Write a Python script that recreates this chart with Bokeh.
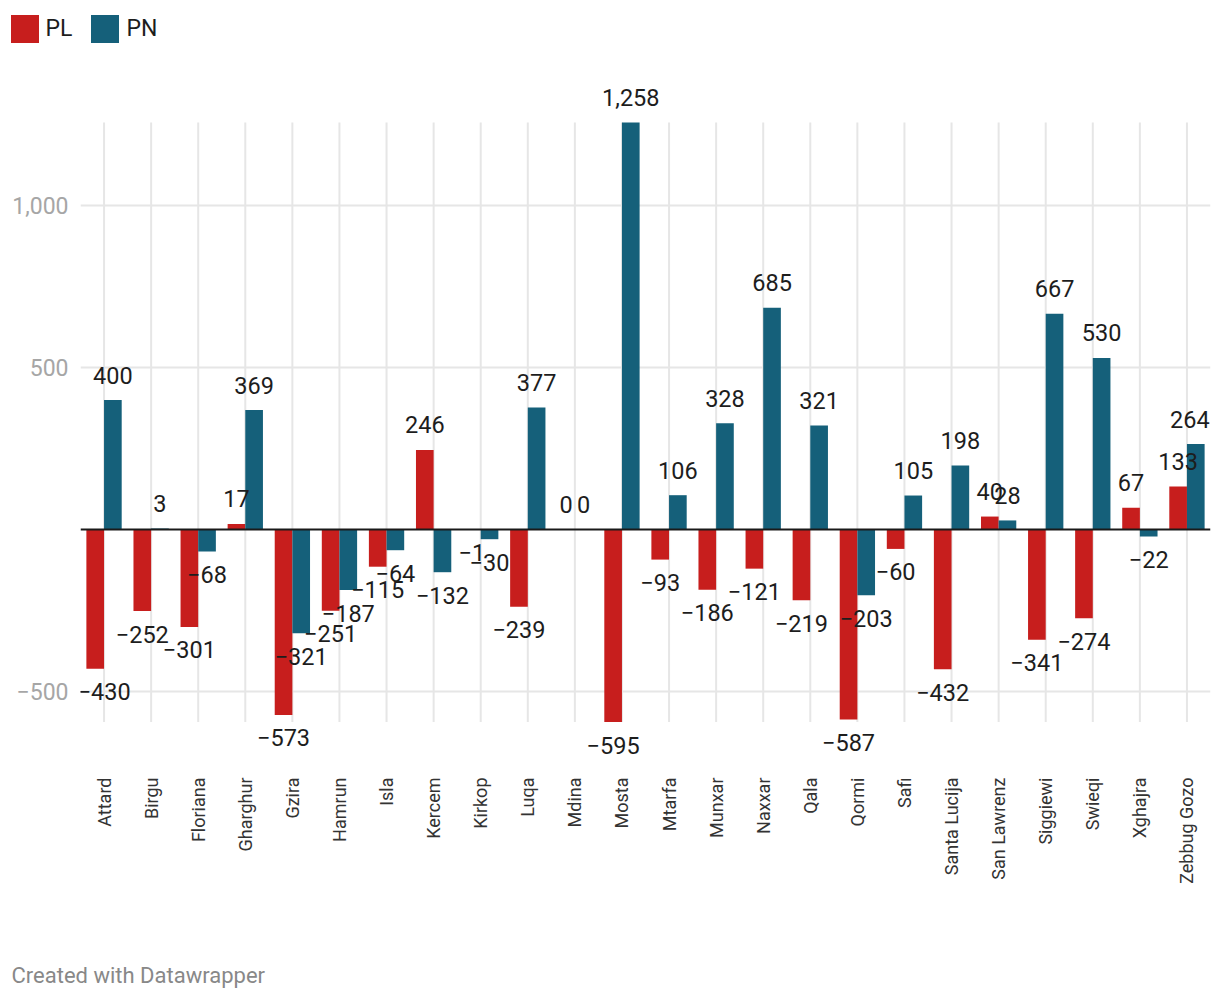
import math
from bokeh.plotting import figure
from bokeh.layouts import column
from bokeh.models import (ColumnDataSource, FactorRange, Range1d, FixedTicker,
                          Legend, LegendItem, Span, Label)
from bokeh.transform import dodge
from bokeh.core.properties import value
from bokeh.embed import file_html
from bokeh.resources import INLINE

categories = ["Attard", "Birgu", "Floriana", "Gharghur", "Gzira", "Hamrun", "Isla",
              "Kercem", "Kirkop", "Luqa", "Mdina", "Mosta", "Mtarfa", "Munxar",
              "Naxxar", "Qala", "Qormi", "Safi", "Santa Lucija", "San Lawrenz",
              "Siggiewi", "Swieqi", "Xghajra", "Zebbug Gozo"]
pl = [-430, -252, -301, 17, -573, -251, -115, 246, -1, -239, 0, -595, -93, -186,
      -121, -219, -587, -60, -432, 40, -341, -274, 67, 133]
pn = [400, 3, -68, 369, -321, -187, -64, -132, -30, 377, 0, 1258, 106, 328,
      685, 321, -203, 105, 198, 28, 667, 530, -22, 264]
series_names = ["PL", "PN"]
y_ticks = [-500, 500, 1000]
y_tick_labels = {-500: "\u2212500", 500: "500", 1000: "1,000"}

RED = "#c71e1d"
BLUE = "#15607a"
FONT = "Roboto"
GRID = "#e6e6e6"
W = 1212


def fmt(v):
    s = f"{abs(v):,}"
    return ("\u2212" + s) if v < 0 else s


def offs(vals):
    return [23 if v < 0 else -25 for v in vals]


def bare(fig):
    fig.outline_line_color = None
    fig.axis.visible = False
    fig.grid.grid_line_color = None
    fig.background_fill_color = "white"
    fig.border_fill_color = "white"
    can_free = "frame_align" in fig.properties()
    if can_free:
        fig.frame_align = False
    return can_free


n = len(categories)
all_vals = pl + pn
# keep the edge labels inside the chart area
pl_dx = [9] + [0] * (n - 1)
pn_dx = [0] * (n - 1) + [-6]
src = ColumnDataSource(dict(
    cat=categories, pl=pl, pn=pn,
    pl_lbl=[fmt(v) for v in pl], pn_lbl=[fmt(v) for v in pn],
    pl_off=offs(pl), pn_off=offs(pn),
    pl_dx=pl_dx, pn_dx=pn_dx,
    g0=[min(all_vals)] * n, g1=[max(all_vals)] * n,
))

# ---------------- legend strip ----------------
lg = figure(width=W, height=50, min_border=0, x_range=FactorRange(*categories),
            y_range=Range1d(5000, 5001), output_backend="svg", toolbar_location=None)
free = bare(lg)
# same series drawn far outside the strip's view; only their legend swatches show
lr1 = lg.vbar(x="cat", top="pl", width=0.375, source=src, fill_color=RED, line_color=None)
lr2 = lg.vbar(x="cat", top="pn", width=0.375, source=src, fill_color=BLUE, line_color=None)
legend = Legend(items=[LegendItem(label=series_names[0], renderers=[lr1]),
                       LegendItem(label=series_names[1], renderers=[lr2])],
                orientation="horizontal", location=(6.5 if free else -73.5, 4.5),
                glyph_width=35, glyph_height=35, label_standoff=4, spacing=15,
                label_text_font=FONT, label_text_font_size="23px",
                label_text_color="#1d1d1d", border_line_color=None,
                background_fill_alpha=0, padding=0, margin=0)
lg.add_layout(legend)

# ---------------- main chart ----------------
p = figure(x_range=FactorRange(*categories), y_range=Range1d(-760.2, 1449.3),
           frame_width=1130, frame_height=715, output_backend="svg",
           toolbar_location=None,
           min_border_left=80, min_border_right=2, min_border_top=10,
           min_border_bottom=165)
p.outline_line_color = None
p.background_fill_color = "white"
p.border_fill_color = "white"

p.xgrid.grid_line_color = None
p.ygrid.ticker = FixedTicker(ticks=y_ticks)
p.ygrid.grid_line_color = GRID
p.ygrid.grid_line_width = 2

# vertical grid lines at each category
p.segment(x0="cat", y0="g0", x1="cat", y1="g1", source=src,
          line_color=GRID, line_width=2)

p.vbar(x=dodge("cat", -0.1875, range=p.x_range), top="pl", width=0.375,
       source=src, fill_color=RED, line_color=None)
p.vbar(x=dodge("cat", 0.1875, range=p.x_range), top="pn", width=0.375,
       source=src, fill_color=BLUE, line_color=None)

p.add_layout(Span(location=0, dimension="width", line_color="#1a1a1a", line_width=2))

for col, lbl, off, dxc, dx in (("pl", "pl_lbl", "pl_off", "pl_dx", -0.1875),
                               ("pn", "pn_lbl", "pn_off", "pn_dx", 0.1875)):
    p.text(x=dodge("cat", dx, range=p.x_range), y=col, text=lbl, y_offset=off,
           x_offset=dxc, source=src, text_align="center", text_baseline="alphabetic",
           text_font=value(FONT), text_font_size="23.5px", text_color="#1d1d1d")

yax = p.yaxis[0]
yax.ticker = FixedTicker(ticks=y_ticks)
yax.major_label_overrides = y_tick_labels
yax.axis_line_color = None
yax.major_tick_line_color = None
yax.minor_tick_line_color = None
yax.major_tick_out = 0
yax.major_tick_in = 0
yax.major_label_standoff = 12
yax.major_label_text_font = FONT
yax.major_label_text_font_size = "23px"
yax.major_label_text_color = "#a6a6a6"

xax = p.xaxis[0]
xax.axis_line_color = None
xax.major_tick_line_color = None
xax.major_tick_out = 0
xax.major_tick_in = 0
xax.major_label_orientation = math.pi / 2
xax.major_label_standoff = 2
xax.major_label_text_font = FONT
xax.major_label_text_font_size = "18px"
xax.major_label_text_color = "#333333"

# ---------------- footer strip ----------------
ft = figure(width=W, height=52, min_border=0, x_range=Range1d(0, 1), y_range=Range1d(0, 1),
            output_backend="svg", toolbar_location=None)
free_ft = bare(ft)
ft.add_layout(Label(x=11 if free_ft else -69, y=17, x_units="screen", y_units="screen",
                    text="Created with Datawrapper", text_baseline="middle",
                    text_font=FONT, text_font_size="22px", text_color="#888888"))

layout = column(lg, p, ft, spacing=0)
open("out.html", "w").write(file_html(layout, INLINE))
